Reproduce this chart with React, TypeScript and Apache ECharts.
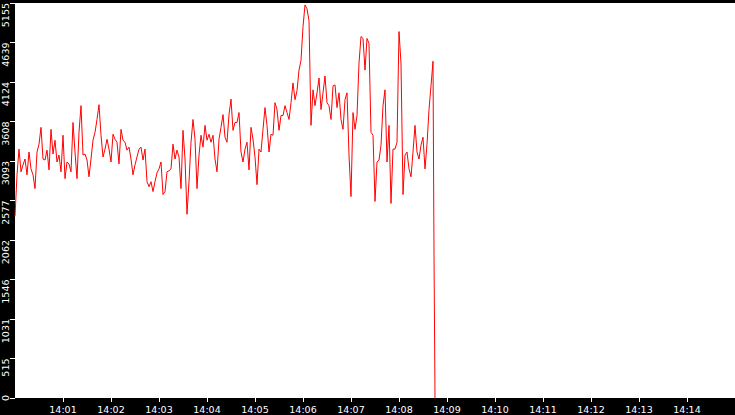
import { useEffect, useRef } from 'react'
import * as echarts from 'echarts'

// sampled every 2.5 s starting at 14:00:00
const stepSeconds = 2.5
const values = [
  2372, 2913, 3248, 2952, 3042, 3119, 2913, 3210, 2990, 2913,
  2733, 3210, 3313, 3532, 3119, 3106, 3235, 2977, 3506, 3184,
  3364, 3080, 3171, 2952, 3429, 2862, 3080, 3055, 2952, 3596,
  3210, 2862, 3467, 3815, 3171, 3184, 3106, 2887, 3119, 3364,
  3467, 3635, 3828, 3429, 3145, 3248, 3377, 3248, 3080, 3442,
  3377, 3338, 3055, 3506, 3364, 3338, 3235, 3274, 3119, 2913,
  3042, 3145, 3248, 3274, 3106, 3248, 2823, 2758, 2823, 2694,
  2823, 2939, 2990, 3080, 2655, 2694, 2952, 2965, 2990, 3313,
  3119, 3235, 3145, 2733, 3493, 3119, 2398, 2823, 3338, 3635,
  3377, 2733, 3171, 3429, 3274, 3558, 3364, 3442, 3338, 3429,
  3119, 2952, 3377, 3532, 3699, 3403, 3338, 3699, 3900, 3493,
  3596, 3596, 3725, 3210, 3080, 3248, 3338, 2977, 3532, 3377,
  3145, 2784, 3248, 3210, 3506, 3790, 3558, 3210, 3442, 3429,
  3854, 3764, 3493, 3687, 3687, 3815, 3725, 3635, 3854, 4112,
  3893, 4009, 4279, 4408, 4847, 5130, 5079, 4924, 3558, 4022,
  3815, 3983, 4176, 3764, 3983, 4202, 3854, 3815, 3635, 4073,
  4086, 3790, 3983, 3635, 3506, 3893, 3983, 3171, 2629, 3725,
  3506, 3687, 4370, 4718, 4692, 4279, 4692, 4627, 3467, 3429,
  2565, 3080, 3106, 3300, 3815, 4022, 3080, 3558, 2539, 3248,
  3248, 3338, 4782, 4370, 2655, 3171, 3210, 2990, 2887, 3210,
  3558, 3210, 3119, 3300, 3403, 2990, 3313, 3764, 4073, 4395,
]

// the last readings before the feed drops out, 1.25 s apart
const tailStepSeconds = 1.25
const tailValues = [1882, 0]

const yTickLabels = ['0', '515', '1031', '1546', '2062', '2577', '3093', '3608', '4124', '4639', '5155']
const yMax = 5155
const hourLabel = '14'
const totalMinutes = 15

export default function App() {
  const chartRef = useRef<HTMLDivElement>(null)

  useEffect(() => {
    document.body.style.margin = '0'
    if (!chartRef.current) return
    const instance = echarts.init(chartRef.current, null, { renderer: 'svg' })
    const yStep = yMax / (yTickLabels.length - 1)

    const points = values.map((v, i) => [i * stepSeconds, v])
    const lastT = (values.length - 1) * stepSeconds
    tailValues.forEach((v, i) => points.push([lastT + (i + 1) * tailStepSeconds, v]))

    instance.setOption({
      animation: false,
      backgroundColor: '#000',
      grid: {
        left: 15,
        right: 0,
        top: 0,
        bottom: 17,
        show: true,
        backgroundColor: '#fff',
        borderWidth: 0,
      },
      xAxis: {
        type: 'value',
        min: 0,
        max: totalMinutes * 60,
        interval: 60,
        axisLine: { show: false },
        axisTick: { show: true, length: 4, lineStyle: { color: '#fff', width: 1 } },
        splitLine: { show: false },
        axisLabel: {
          color: '#fff',
          fontFamily: 'DejaVu Sans',
          fontSize: 9.5,
          margin: 6,
          showMinLabel: false,
          showMaxLabel: false,
          formatter: (v: number) => `${hourLabel}:${String(Math.round(v / 60)).padStart(2, '0')}`,
        },
      },
      yAxis: {
        type: 'value',
        min: 0,
        max: yMax,
        interval: yStep,
        axisLine: { show: false },
        axisTick: { show: true, length: 5, lineStyle: { color: '#fff', width: 1 } },
        splitLine: { show: false },
        axisLabel: {
          color: '#fff',
          fontFamily: 'DejaVu Sans',
          fontSize: 9.5,
          rotate: 90,
          margin: 5,
          align: 'right',
          verticalAlign: 'bottom',
          alignMinLabel: 'center',
          formatter: (v: number) => yTickLabels[Math.round(v / yStep)] ?? '',
        },
      },
      series: [
        {
          type: 'line',
          data: points,
          showSymbol: false,
          symbol: 'none',
          lineStyle: { color: '#ff0000', width: 1 },
          itemStyle: { color: '#ff0000' },
        },
      ],
    })

    return () => {
      instance.dispose()
    }
  }, [])

  return <div ref={chartRef} style={{ width: 735, height: 415 }} />
}
